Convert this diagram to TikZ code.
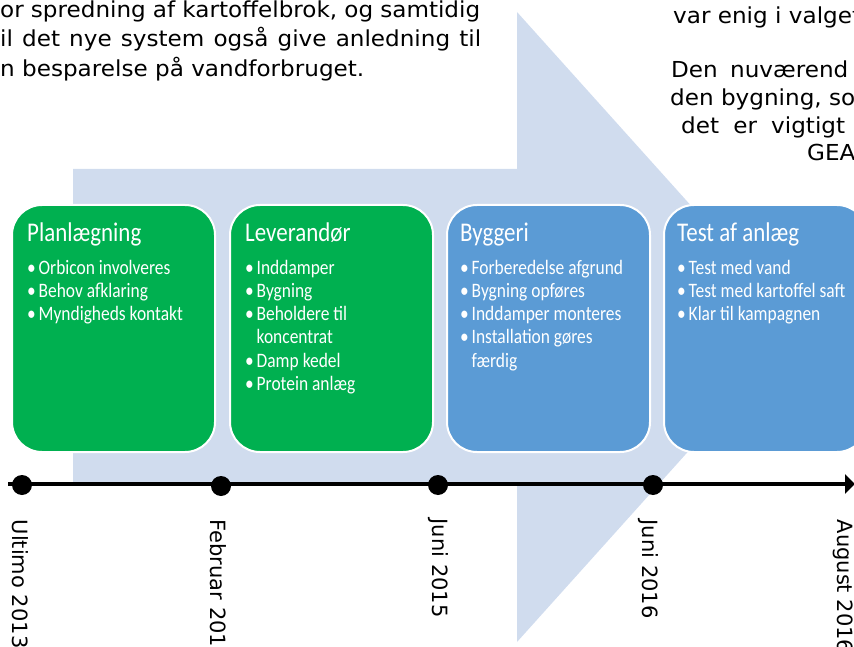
\documentclass[tikz,border=0pt]{standalone}
\usepackage{fontspec}
\usetikzlibrary{arrows.meta}
\newfontfamily\docfont[FakeStretch=1.05]{DejaVu Sans}
\newfontfamily\boxfont[FakeStretch=0.85]{Carlito}
\newfontfamily\tlfont{DejaVu Sans}
\definecolor{arrowblue}{RGB}{208,220,238}
\definecolor{boxgreen}{RGB}{0,176,80}
\definecolor{boxblue}{RGB}{91,155,213}
\newcommand\bl{\makebox[11.5pt][l]{•}}
\newcommand\bc{\hspace*{11.5pt}}
\tikzset{
  stage/.style={draw=white, line width=2pt, rounded corners=30pt, minimum width=203pt,
    minimum height=247pt, anchor=north west, inner sep=0pt},
  stagetitle/.style={anchor=base west, inner sep=0pt, text=white,
    font=\boxfont\fontsize{27}{30}\selectfont},
  stageitem/.style={anchor=base west, inner sep=0pt, text=white,
    font=\boxfont\fontsize{20.5}{23}\selectfont},
  para/.style={anchor=base west, inner sep=0pt, font=\docfont\fontsize{22}{26}\selectfont},
  datelabel/.style={anchor=base west, inner sep=0pt, rotate=-90,
    font=\tlfont\fontsize{21}{25}\selectfont},
  tdot/.style={circle, fill=black, minimum size=20pt, inner sep=0pt},
  timeline/.style={line width=4.5pt, -{Triangle[length=10pt,width=19pt]}},
}
\begin{document}
\begin{tikzpicture}[x=1pt,y=-1pt]
\useasboundingbox (0,0) rectangle (854,647);
\clip (0,0) rectangle (854,647);
% big background arrow
\fill[arrowblue] (73,169) -- (517,169) -- (517,12) -- (800,327) -- (517,642)
  -- (517,484) -- (73,484) -- cycle;
% surrounding document text
\node[para] (t1) at (0,17.5) {\makebox[480pt][s]{or spredning af kartoffelbrok, og samtidig}};
\node[para] (t2) at (0,47) {\makebox[481pt][s]{il det nye system også give anledning til}};
\node[para] (t3) at (0,76.5) {n besparelse på vandforbruget.};
\node[para] (r1) at (673,23.5) {var enig i valget};
\node[para] (r2) at (671,78) {Den\hspace{5pt} nuværend};
\node[para] (r3) at (670,106) {den bygning, so};
\node[para] (r4) at (681,134) {\makebox[164pt][s]{det er vigtigt}};
\node[para] (r5) at (807,161) {GEA};
% stage boxes
\node[stage, fill=boxgreen] (s1) at (11,204) {};
\node[stage, fill=boxgreen] (s2) at (229,204) {};
\node[stage, fill=boxblue] (s3) at (446,204) {};
\node[stage, fill=boxblue] (s4) at (663,204) {};
% titles
\node[stagetitle] (h1) at (27,242) {Planlægning};
\node[stagetitle] (h2) at (245,242) {Leverandør};
\node[stagetitle] (h3) at (460,242) {Byggeri};
\node[stagetitle] (h4) at (677,242) {Test af anlæg};
% items
\foreach \t [count=\i] in {\bl Orbicon involveres, \bl Behov afklaring, \bl Myndigheds kontakt}
  \node[stageitem] (i1-\i) at (27,{274+23.3*(\i-1)}) {\t};
\foreach \t [count=\i] in {\bl Inddamper, \bl Bygning, \bl Beholdere til, \bc koncentrat, \bl Damp kedel, \bl Protein anlæg}
  \node[stageitem] (i2-\i) at (245,{274+23.3*(\i-1)}) {\t};
\foreach \t [count=\i] in {\bl Forberedelse afgrund, \bl Bygning opføres, \bl Inddamper monteres, \bl Installation gøres, \bc færdig}
  \node[stageitem] (i3-\i) at (460,{274+23.3*(\i-1)}) {\t};
\foreach \t [count=\i] in {\bl Test med vand, \bl Test med kartoffel saft, \bl Klar til kampagnen}
  \node[stageitem] (i4-\i) at (677,{274+23.3*(\i-1)}) {\t};
% timeline
\coordinate (tlstart) at (8,484);
\coordinate (tlend) at (855,484);
\draw[timeline] (tlstart) -- (tlend);
\node[tdot] (p1) at (22,485) {};
\node[tdot] (p2) at (221,486) {};
\node[tdot] (p3) at (438,485) {};
\node[tdot] (p4) at (653,485) {};
% dates
\node[datelabel] (d1) at (12.8,519.5) {Ultimo 2013};
\node[datelabel] (d2) at (210.3,519.5) {Februar 2015};
\node[datelabel] (d3) at (432.3,518.5) {Juni 2015};
\node[datelabel] (d4) at (642.3,519.5) {Juni 2016};
\node[datelabel] (d5) at (837.3,519.5) {August 2016};
\end{tikzpicture}
\end{document}
